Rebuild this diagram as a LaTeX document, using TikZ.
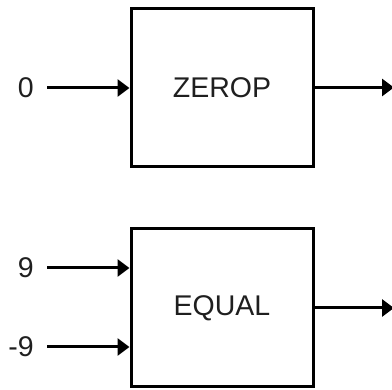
\documentclass[tikz,border=0pt]{standalone}
\usepackage{fontspec}
\setmainfont{Liberation Sans}
\usetikzlibrary{arrows.meta}
\begin{document}
\begin{tikzpicture}[x=1pt,y=-1pt,
  box/.style={draw=black, line width=3pt, minimum width=182pt, minimum height=158pt,
    inner sep=0pt, font=\fontsize{28.5}{30}\selectfont, text=black!88},
  lab/.style={anchor=east, inner sep=0pt, font=\fontsize{28.5}{30}\selectfont, text=black!88},
  arr/.style={line width=3pt, -{Triangle[length=12pt,width=17pt]}}]
\useasboundingbox (0,0) rectangle (392,390);
\node[box] (zerop) at (222,87.5) {ZEROP};
\node[box] (equal) at (222,308) {EQUAL};
\node[lab] (in0) at (34,88) {0};
\node[lab] (in9) at (34,268) {9};
\node[lab] (inm9) at (34,347) {-9};
\coordinate (out0) at (394,87.5);
\coordinate (out1) at (394,308);
\draw[arr, shorten <=13pt] (in0.east) -- (zerop.west |- in0.east);
\draw[arr, shorten <=13pt] (in9.east) -- (equal.west |- in9.east);
\draw[arr, shorten <=13pt] (inm9.east) -- (equal.west |- inm9.east);
\draw[arr] (zerop.east) -- (out0);
\draw[arr] (equal.east) -- (out1);
\end{tikzpicture}
\end{document}
